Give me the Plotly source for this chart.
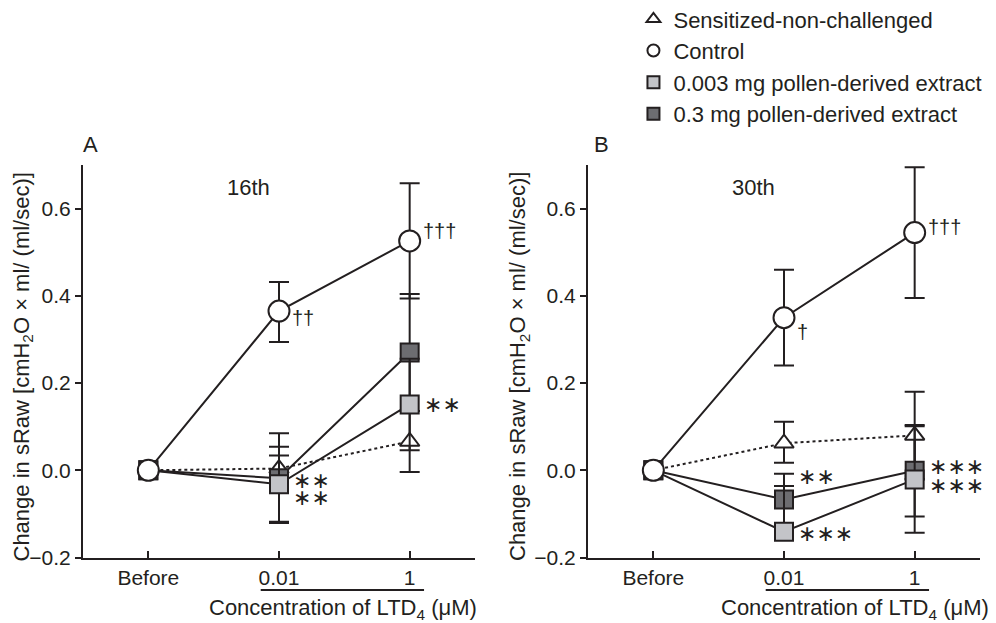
import plotly.graph_objects as go

# ---------------- data ----------------
categories = ["Before", "0.01", "1"]
tick_text = ["Before", "0.01", "1"]
y_tick_vals = [-0.2, 0.0, 0.2, 0.4, 0.6]
y_tick_text = ["\u22120.2", "0.0", "0.2", "0.4", "0.6"]

series_names = ["Sensitized-non-challenged", "Control",
                "0.003 mg pollen-derived extract", "0.3 mg pollen-derived extract"]

# Panel A (16th)
a_sens = [0.0, 0.004, 0.066]
a_sens_ep = [0.0, 0.030, 0.070]
a_sens_em = [0.0, 0.030, 0.070]
a_ctrl = [0.0, 0.365, 0.526]
a_ctrl_ep = [0.0, 0.067, 0.132]
a_ctrl_em = [0.0, 0.071, 0.132]
a_low = [0.0, -0.032, 0.151]
a_low_ep = [0.0, 0.086, 0.105]
a_low_em = [0.0, 0.086, 0.105]
a_high = [0.0, -0.018, 0.270]
a_high_ep = [0.0, 0.103, 0.134]
a_high_em = [0.0, 0.103, 0.134]

# Panel B (30th)
b_sens = [0.0, 0.062, 0.080]
b_sens_ep = [0.0, 0.049, 0.100]
b_sens_em = [0.0, 0.045, 0.100]
b_ctrl = [0.0, 0.350, 0.545]
b_ctrl_ep = [0.0, 0.110, 0.150]
b_ctrl_em = [0.0, 0.110, 0.150]
b_low = [0.0, -0.141, -0.021]
b_low_ep = [0.0, 0.105, 0.122]
b_low_em = [0.0, 0.0, 0.122]
b_high = [0.0, -0.067, -0.001]
b_high_ep = [0.0, 0.059, 0.105]
b_high_em = [0.0, 0.059, 0.105]

# significance labels: (category, value, text)
marks_a = [("0.01", 0.350, "\u2020\u2020"), ("1", 0.548, "\u2020\u2020\u2020"),
           ("1", 0.151, "\u2217\u2217"),
           ("0.01", -0.023, "\u2217\u2217"), ("0.01", -0.062, "\u2217\u2217")]
marks_b = [("0.01", 0.318, "\u2020"), ("1", 0.558, "\u2020\u2020\u2020"),
           ("0.01", -0.015, "\u2217\u2217"), ("0.01", -0.145, "\u2217\u2217\u2217"),
           ("1", 0.009, "\u2217\u2217\u2217"), ("1", -0.035, "\u2217\u2217\u2217")]

# ---------------- style ----------------
INK = "#231f20"
LIGHT = "#c3c4c8"
DARK = "#6d6d71"
FONT = "Liberation Sans, Arial, sans-serif"

styles = {
    "sens": dict(symbol="triangle-up", size=17, color="white", dash="dot"),
    "ctrl": dict(symbol="circle", size=21, color="white", dash="solid"),
    "low": dict(symbol="square", size=18, color=LIGHT, dash="solid"),
    "high": dict(symbol="square", size=18, color=DARK, dash="solid"),
}

fig = go.Figure()


def add_series(y, ep, em, key, xa, ya):
    st = styles[key]
    fig.add_trace(go.Scatter(
        x=categories, y=y, xaxis=xa, yaxis=ya, mode="lines+markers",
        showlegend=False, cliponaxis=False, hoverinfo="skip",
        line=dict(color=INK, width=2, dash=st["dash"]),
        marker=dict(symbol=st["symbol"], size=st["size"], color=st["color"],
                    line=dict(color=INK, width=2)),
        error_y=dict(type="data", array=ep, arrayminus=em, symmetric=False,
                     color=INK, thickness=2, width=10),
    ))


# draw order: triangle, dark, light, control
for xa, ya, d in [("x", "y", dict(sens=(a_sens, a_sens_ep, a_sens_em), high=(a_high, a_high_ep, a_high_em),
                                   low=(a_low, a_low_ep, a_low_em), ctrl=(a_ctrl, a_ctrl_ep, a_ctrl_em))),
                  ("x2", "y2", dict(sens=(b_sens, b_sens_ep, b_sens_em), high=(b_high, b_high_ep, b_high_em),
                                     low=(b_low, b_low_ep, b_low_em), ctrl=(b_ctrl, b_ctrl_ep, b_ctrl_em)))]:
    for key in ["sens", "high", "low", "ctrl"]:
        add_series(*d[key], key, xa, ya)

# legend-only traces
for name, key in zip(series_names, ["sens", "ctrl", "low", "high"]):
    st = styles[key]
    fig.add_trace(go.Scatter(
        x=[None], y=[None], mode="markers", name=name, legendgroup=name,
        marker=dict(symbol=st["symbol"], size=16, color=st["color"],
                    line=dict(color=INK, width=2)),
    ))

x_dom_a = [83 / 996, 475 / 996]
x_dom_b = [588 / 996, 980 / 996]
y_dom = [1 - 557.5 / 623, 1 - 165 / 623]

xaxis_common = dict(type="category", range=[-0.5, 2.5], tickvals=categories, ticktext=tick_text,
                    showline=True, linecolor=INK, linewidth=2, ticks="inside", ticklen=7,
                    tickwidth=2, tickcolor=INK, showgrid=False, zeroline=False, automargin=False,
                    tickfont=dict(family=FONT, size=21, color=INK), fixedrange=True)
yaxis_common = dict(range=[-0.2, 0.7], tickvals=y_tick_vals, ticktext=y_tick_text,
                    showline=True, linecolor=INK, linewidth=2, ticks="outside", ticklen=6,
                    tickwidth=2, tickcolor=INK, showgrid=False, zeroline=False, automargin=False,
                    tickfont=dict(family=FONT, size=21, color=INK), fixedrange=True)

fig.update_layout(
    width=996, height=623, margin=dict(l=0, r=0, t=0, b=0, autoexpand=False),
    paper_bgcolor="white", plot_bgcolor="white",
    font=dict(family=FONT, color=INK),
    xaxis=dict(domain=x_dom_a, anchor="y", **xaxis_common),
    yaxis=dict(domain=y_dom, anchor="x", **yaxis_common),
    xaxis2=dict(domain=x_dom_b, anchor="y2", **xaxis_common),
    yaxis2=dict(domain=y_dom, anchor="x2", **yaxis_common),
    legend=dict(x=0.636, y=1.003, xanchor="left", yanchor="top",
                font=dict(family=FONT, size=22, color=INK),
                traceorder="grouped", tracegroupgap=0, bgcolor="rgba(0,0,0,0)",
                itemsizing="constant"),
    showlegend=True,
    hovermode=False,
)

ann = []
ytitle = "Change in sRaw [cmH<sub>2</sub>O \u00d7 ml/ (ml/sec)]"
xtitle = "Concentration of LTD<sub>4</sub> (\u03bcM)"


def paper_text(xp, yp, text, size=22, angle=0):
    return dict(x=xp / 996, y=1 - yp / 623, xref="paper", yref="paper", text=text,
                xanchor="center", yanchor="middle", textangle=angle, showarrow=False,
                font=dict(size=size, family=FONT, color=INK))


for xc, lab, sub, subx, ytx, xtx in [(90, "A", "16th", 248, 22.5, 343),
                                      (601, "B", "30th", 753, 519, 855)]:
    ann.append(paper_text(xc, 144, lab))
    ann.append(paper_text(subx, 187, sub))
    ann.append(paper_text(ytx, 367, ytitle, angle=-90))
    ann.append(paper_text(xtx, 609, xtitle))

for xa, ya, marks in [("x", "y", marks_a), ("x2", "y2", marks_b)]:
    for cat, val, txt in marks:
        is_dagger = "\u2020" in txt
        ann.append(dict(x=categories.index(cat), y=val, xref=xa, yref=ya, text=txt, showarrow=False,
                        xanchor="left", yanchor="middle", xshift=11 if is_dagger else 12,
                        yshift=0, align="left",
                        font=dict(size=20 if is_dagger else 22,
                                  family=FONT if is_dagger else "DejaVu Sans", color=INK)))

fig.update_layout(annotations=ann)

for xa in ["x", "x2"]:
    fig.add_shape(type="line", xref=xa, yref="paper", x0=0.86, x1=2.11,
                  y0=1 - 590 / 623, y1=1 - 590 / 623, line=dict(color=INK, width=2))

fig.write_html("out.html", config={"displayModeBar": False, "staticPlot": True},
               post_script="document.body.style.margin='0';document.body.style.overflow='hidden';")
